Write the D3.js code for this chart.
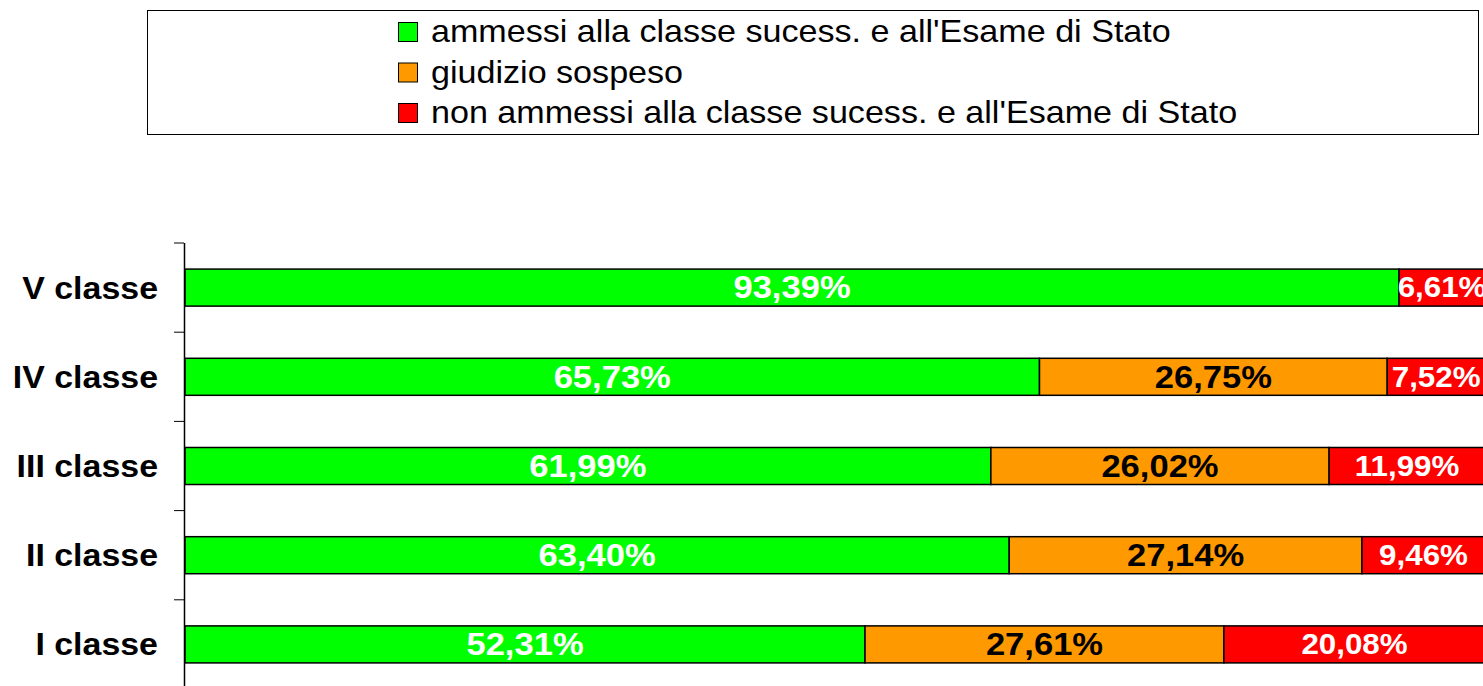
<!DOCTYPE html>
<html>
<head>
<meta charset="utf-8">
<script src="https://cdn.jsdelivr.net/npm/d3@7"></script>
<style>
  body { margin: 0; background: #fff; overflow: hidden; }
  text { font-family: 'Liberation Sans', Arial, sans-serif; }
</style>
</head>
<body>
<div class="chart"></div>
<script>
var classes = ['V classe', 'IV classe', 'III classe', 'II classe', 'I classe']
var ammessi = [93.39, 65.73, 61.99, 63.40, 52.31]
var sospeso = [0, 26.75, 26.02, 27.14, 27.61]
var nonAmmessi = [6.61, 7.52, 11.99, 9.46, 20.08]

var seriesNames = [
  "ammessi alla classe sucess. e all'Esame di Stato",
  'giudizio sospeso',
  "non ammessi alla classe sucess. e all'Esame di Stato"
]
var colors = ['#00ff00', '#ff9900', '#ff0000']
var labelColors = ['#fff', '#000', '#fff']
var labelSizes = [32, 32, 29]

var rows = classes.map((c, i) => ({ cls: c, s0: ammessi[i], s1: sospeso[i], s2: nonAmmessi[i] }))
var stack = d3.stack().keys(['s0', 's1', 's2'])(rows)

var svg = d3.select('.chart')
  .append('svg')
    .attr('width', 1483)
    .attr('height', 686)

var x = d3.scaleLinear().domain([0, 100]).range([185, 1485])
var y = d3.scaleBand().domain(classes).range([243, 689]).paddingInner(0.585).paddingOuter(0.2925)

// legend
var legend = svg.append('g')
legend.append('rect')
  .attr('x', 147.5).attr('y', 10.5)
  .attr('width', 1331).attr('height', 124)
  .style('fill', '#fff').style('stroke', '#000').style('stroke-width', 1)

var item = legend.selectAll('g.item')
  .data(seriesNames)
  .enter()
    .append('g')
    .attr('transform', (d, i) => `translate(398, ${22 + i * 40.5})`)

item.append('rect')
  .attr('x', 0.5).attr('y', 0.5)
  .attr('width', 19).attr('height', 19)
  .style('fill', (d, i) => colors[i])
  .style('stroke', '#000')

// the original text is a little stretched sideways
item.append('text')
  .attr('transform', 'translate(33, 20) scale(1.1, 1)')
  .style('font-size', '31px')
  .style('fill', '#000')
  .text(d => d)

// bars
var layer = svg.selectAll('g.layer')
  .data(stack)
  .enter()
    .append('g')
    .attr('class', 'layer')

layer.selectAll('rect')
  .data((d, i) => d.map(p => ({ p: p, i: i })).filter(o => o.p[1] - o.p[0] > 0))
  .enter()
    .append('rect')
    .attr('x', d => x(d.p[0]))
    .attr('y', d => y(d.p.data.cls))
    .attr('width', d => x(d.p[1]) - x(d.p[0]))
    .attr('height', y.bandwidth())
    .style('fill', d => colors[d.i])
    .style('stroke', '#000')
    .style('stroke-width', 1.5)

layer.selectAll('text')
  .data((d, i) => d.map(p => ({ p: p, i: i })).filter(o => o.p[1] - o.p[0] > 0))
  .enter()
    .append('text')
    .attr('transform', d => `translate(${(x(d.p[0]) + x(d.p[1])) / 2}, ${y(d.p.data.cls) + y.bandwidth() / 2 + labelSizes[d.i] * 0.34}) scale(1.08, 1)`)
    .attr('text-anchor', 'middle')
    .style('font-size', d => labelSizes[d.i] + 'px')
    .style('font-weight', 'bold')
    .style('fill', d => labelColors[d.i])
    .text(d => (d.p[1] - d.p[0]).toFixed(2).replace('.', ',') + '%')

// axis
var ticks = d3.range(classes.length + 1).map(i => 243 + i * y.step())
svg.append('line')
  .attr('x1', 184.5).attr('x2', 184.5)
  .attr('y1', 243).attr('y2', 689)
  .style('stroke', '#000').style('stroke-width', 1.5)
svg.selectAll('line.tick')
  .data(ticks)
  .enter()
    .append('line')
    .attr('class', 'tick')
    .attr('x1', 174).attr('x2', 184)
    .attr('y1', d => d).attr('y2', d => d)
    .style('stroke', '#000')

svg.selectAll('text.cat')
  .data(classes)
  .enter()
    .append('text')
    .attr('class', 'cat')
    .attr('transform', d => `translate(158, ${y(d) + y.bandwidth() / 2 + 11}) scale(1.06, 1)`)
    .attr('text-anchor', 'end')
    .style('font-size', '32px')
    .style('font-weight', 'bold')
    .text(d => d)
</script>
</body>
</html>
